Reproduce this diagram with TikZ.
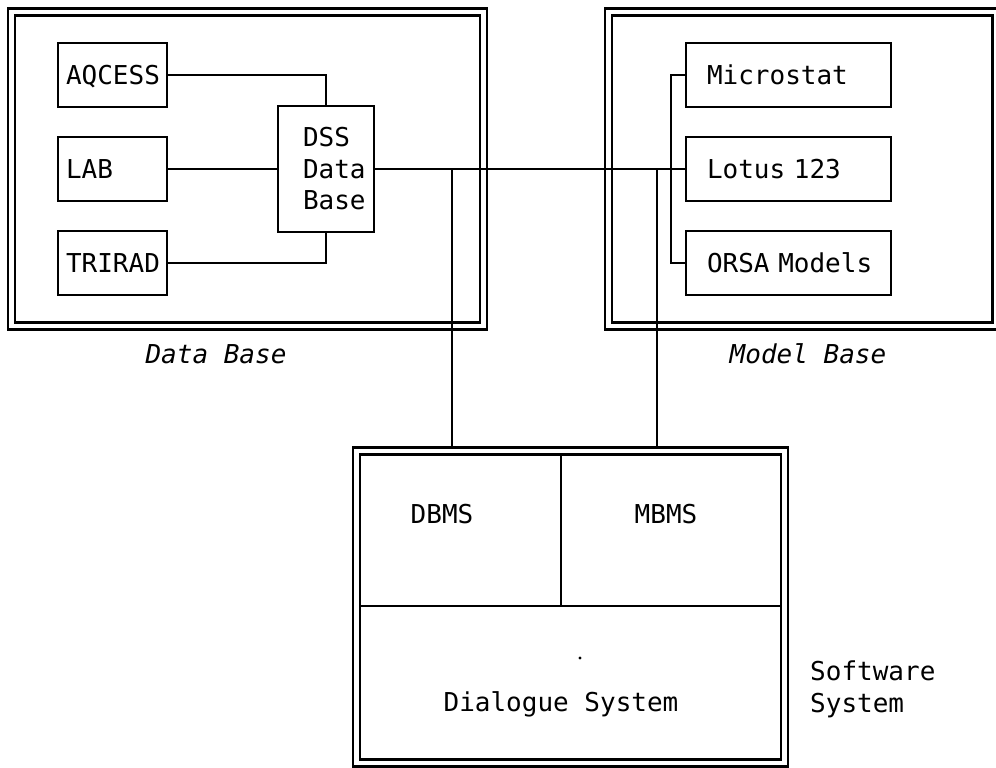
\documentclass[tikz,border=0pt]{standalone}
\usepackage{fontspec}
\newfontfamily\plotfont{DejaVu Sans Mono}
\begin{document}
\begin{tikzpicture}[x=1pt,y=-1pt,
  every node/.style={font=\plotfont\fontsize{26}{31.5}\selectfont},
  box/.style={draw, line width=2.6pt, rectangle, inner ysep=0pt, align=left},
  lbox/.style={box, minimum width=109pt, minimum height=64pt, inner xsep=8pt, text width=93pt, text height=19pt, text depth=0pt},
  rbox/.style={box, minimum width=205pt, minimum height=64pt, inner xsep=21pt, text width=163pt, text height=19pt, text depth=0pt},
  frame/.style={draw, double, double distance=4.8pt, line width=2.2pt, rectangle, inner sep=0pt},
  conn/.style={line width=2.4pt},
  lbl/.style={anchor=base, inner sep=0pt},
  slant/.style={font=\plotfont\itshape\fontsize{26}{31.5}\selectfont},
]
\useasboundingbox (0,0) rectangle (996,768);
\clip (0,0) rectangle (996,768);

% frames
\node[frame, minimum width=472pt, minimum height=314pt] (dbframe) at (247.5,169) {};
\node[frame, minimum width=387.5pt, minimum height=314pt] (mbframe) at (802.25,169) {};
\node[frame, minimum width=428pt, minimum height=312pt] (soft) at (570.5,607) {};

% data base boxes
\node[lbox] (aq) at (112.5,75) {\mbox{AQCESS}};
\node[lbox] (lab) at (112.5,169) {\mbox{LAB}};
\node[lbox] (tri) at (112.5,263) {\mbox{TRIRAD}};
\node[box, minimum width=96pt, minimum height=126pt, inner xsep=0pt, text width=46pt] (dss) at (326,169) {\mbox{DSS}\\\mbox{Data}\\\mbox{Base}};

% model base boxes
\node[rbox] (micro) at (788.5,75) {\mbox{Microstat}};
\node[rbox] (lotus) at (788.5,169) {\mbox{Lotus 123}};
\node[rbox] (orsa) at (788.5,263) {\mbox{ORSA Models}};

% connectors
\draw[conn] (aq.east) -| (dss.north);
\draw[conn] (lab.east) -- (dss.west);
\draw[conn] (tri.east) -| (dss.south);
\draw[conn] (dss.east) -- (lotus.west);
\coordinate (j1) at (452,169);
\coordinate (j2) at (657,169);
\coordinate (bus) at (671,169);
\coordinate (softtop) at ([yshift=3.5pt]soft.north);
\draw[conn] (j1) -- (j1 |- softtop);
\draw[conn] (j2) -- (j2 |- softtop);
\draw[conn] (micro.west) -| (bus) |- (orsa.west);

% software system cells
\coordinate (hl) at (360,606);
\coordinate (hr) at (781,606);
\coordinate (vt) at (561,454.5);
\draw[conn] (hl) -- (hr);
\draw[conn] (vt) -- (vt |- hl);

% labels
\node[lbl, slant] (dbl) at (216,363) {Data Base};
\node[lbl, slant] (mbl) at (808,363) {Model Base};
\node[lbl] (dbms) at (442,523) {DBMS};
\node[lbl] (mbms) at (666,523) {MBMS};
\node[lbl] (dlg) at (561,711) {Dialogue System};
\node[anchor=base west, inner sep=0pt, align=left] (sw) at (810,712) {Software\\System};
\node[circle, fill, inner sep=1.2pt] (dot) at (580,658) {};
\end{tikzpicture}
\end{document}
